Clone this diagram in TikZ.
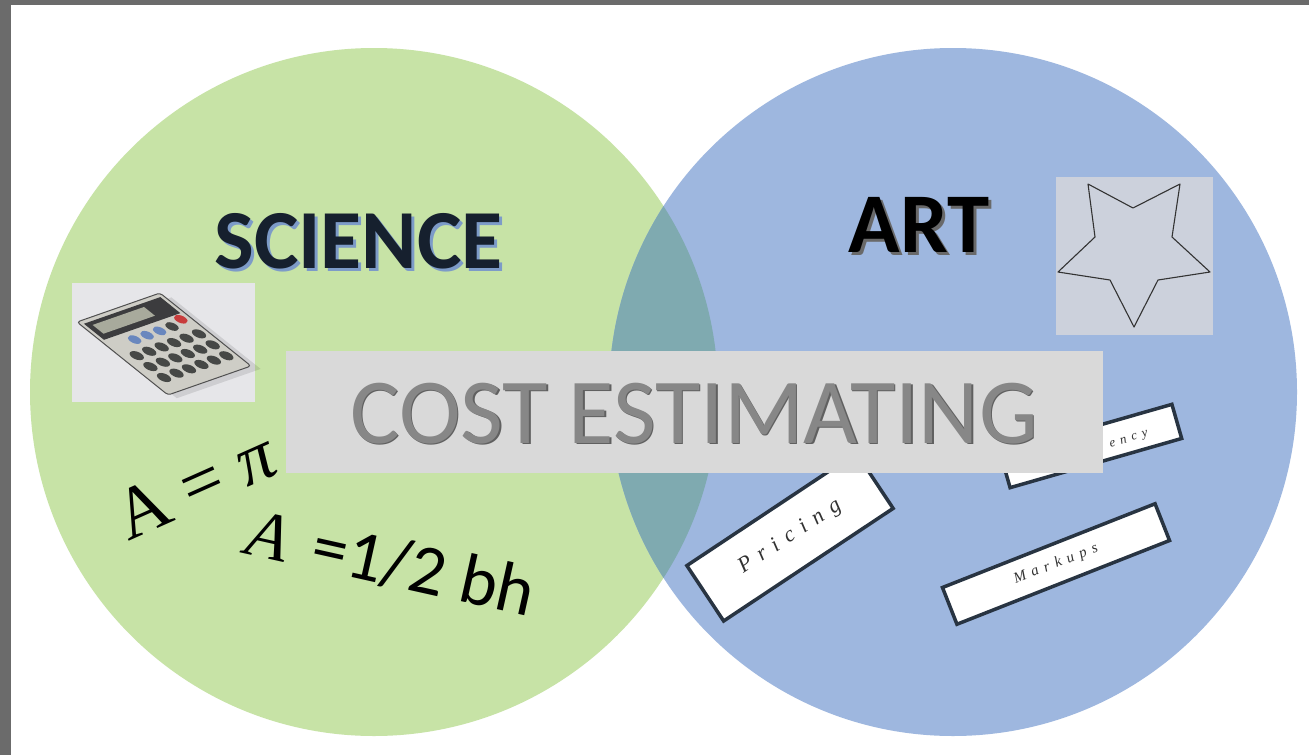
\documentclass[tikz,border=0pt]{standalone}
\usepackage{fontspec}
\newfontfamily\calib{Carlito}
\newfontfamily\lserif{Liberation Serif}
\newfontfamily\lblfont[LetterSpace=40]{Liberation Serif}
\definecolor{sgreen}{RGB}{199,227,166}
\definecolor{sblue}{RGB}{158,183,223}
\definecolor{overlapc}{RGB}{127,170,176}
\definecolor{framec}{RGB}{107,107,107}
\definecolor{costbg}{RGB}{217,217,217}
\definecolor{costfg}{RGB}{135,135,135}
\definecolor{costsh}{RGB}{96,96,96}
\definecolor{scitext}{RGB}{22,32,46}
\definecolor{scish}{RGB}{125,155,200}
\definecolor{artsh}{RGB}{105,105,105}
\definecolor{starbg}{RGB}{204,209,220}
\definecolor{calbg}{RGB}{230,230,233}
\definecolor{calbody}{RGB}{206,205,198}
\definecolor{caledge}{RGB}{80,80,80}
\definecolor{calpanel}{RGB}{60,60,62}
\definecolor{calscreen}{RGB}{168,170,156}
\definecolor{keydark}{RGB}{70,72,70}
\definecolor{keyblue}{RGB}{105,135,190}
\definecolor{keyred}{RGB}{200,60,60}
\definecolor{tagedge}{RGB}{40,52,66}
\definecolor{tagtext}{RGB}{50,50,50}
\tikzset{
  plate/.style={inner sep=0pt, outer sep=0pt},
  tagbox/.style={draw=tagedge, fill=white, line width=3.5pt, inner sep=0pt},
  tagtxt/.style={inner sep=0pt, text=tagtext},
  key/.style={fill=keydark},
}
\begin{document}
\begin{tikzpicture}[x=1pt,y=-1pt]
\useasboundingbox (0,0) rectangle (1309,755);
\fill[white] (0,0) rectangle (1309,755);
% circles
\node[plate, circle, fill=sgreen, minimum size=688pt] (science) at (374,392) {};
\node[plate, circle, fill=sblue, minimum size=688pt] (art) at (953,392) {};
\begin{scope}
  \clip (374,392) circle[radius=344];
  \fill[overlapc] (953,392) circle[radius=344];
\end{scope}
% calculator picture
\node[plate, fill=calbg, minimum width=183pt, minimum height=119pt, anchor=north west] (calcpic) at (72,283) {};
\begin{scope}[shift={(77,322)}, x={(83pt,29pt)}, y={(91pt,-73pt)}]
  \fill[black, opacity=0.10] (0.04,0.08) -- (1.05,0.08) -- (1.05,1.06) -- (0.04,1.06) -- cycle;
  \draw[fill=calbody, draw=caledge, line width=1pt, rounded corners=3pt] (0,0) -- (1,0) -- (1,1) -- (0,1) -- cycle;
  \fill[calpanel] (0.04,0.04) -- (0.96,0.04) -- (0.96,0.26) -- (0.04,0.26) -- cycle;
  \fill[calscreen] (0.1,0.08) -- (0.72,0.08) -- (0.72,0.2) -- (0.1,0.2) -- cycle;
  \foreach \s in {0.3,0.45,0.6} \fill[keyblue] (\s,0.36) circle[radius=0.055];
  \fill[key] (0.75,0.36) circle[radius=0.055];
  \fill[keyred] (0.9,0.32) circle[radius=0.055];
  \foreach \s in {0.15,0.3,0.45,0.6,0.75,0.9}
    \foreach \t in {0.52,0.67,0.82}
      \fill[key] (\s,\t) circle[radius=0.058];
\end{scope}
% star picture
\node[plate, fill=starbg, minimum width=157pt, minimum height=158pt, anchor=north west] (starpic) at (1056,177) {};
\draw[line width=1.1pt, draw=black!80, line join=round] (1088,184) -- (1133,208) -- (1180,184) -- (1172,237) -- (1210,272) -- (1158,280) -- (1134,327) -- (1110,280) -- (1058,272) -- (1095,237) -- cycle;
% titles
\node[plate, anchor=base, text=scish, font=\calib\bfseries\fontsize{84}{84}\selectfont] (scishadow) at (361.5,271) {SCIENCE};
\node[plate, anchor=base, text=scitext, font=\calib\bfseries\fontsize{84}{84}\selectfont] (scititle) at (358.5,268) {SCIENCE};
\node[plate, anchor=base, text=artsh, font=\calib\bfseries\fontsize{85}{85}\selectfont] (artshadow) at (922,255) {ART};
\node[plate, anchor=base, text=black, font=\calib\bfseries\fontsize{85}{85}\selectfont] (arttitle) at (919,252) {ART};
% formulas
\node[plate, anchor=base west, rotate=24, font=\lserif\fontsize{73}{73}\selectfont] (circlearea) at (128,541) {A = \textit{π}};
\node[plate, anchor=base west, rotate=-12.6] (trianglearea) at (243,553) {{\lserif\itshape\fontsize{68}{68}\selectfont A}\hspace{26pt}{\calib\fontsize{71}{71}\selectfont =1/2 bh}};
% tags
\node[tagbox, minimum width=203.5pt, minimum height=66.5pt, rotate=33.6] (pricingbox) at (790,537) {};
\node[tagtxt, rotate=33.6, font=\lblfont\itshape\fontsize{22}{22}\selectfont] (pricing) at (pricingbox.center) {Pricing};
\node[tagbox, minimum width=228.5pt, minimum height=39.5pt, rotate=21.5] (markupsbox) at (1056,564) {};
\node[tagtxt, rotate=21.5, font=\lblfont\itshape\fontsize{15}{15}\selectfont] (markups) at (markupsbox.center) {Markups};
\node[tagbox, minimum width=178.5pt, minimum height=35.5pt, rotate=16] (encybox) at (1091,446) {};
\node[tagtxt, rotate=16, font=\lblfont\itshape\fontsize{13}{13}\selectfont] (ency) at (1129,440) {ency};
% cost estimating banner
\node[plate, fill=costbg, minimum width=817pt, minimum height=122pt, anchor=north west] (costbox) at (286,351) {};
\node[plate, anchor=base, text=costsh, font=\calib\fontsize{93}{93}\selectfont] (costshadow) at (695.5,444.5) {COST ESTIMATING};
\node[plate, anchor=base, text=costfg, font=\calib\fontsize{93}{93}\selectfont] (costtitle) at (694,443) {COST ESTIMATING};
% frame
\fill[framec] (0,0) rectangle (11,755);
\fill[framec] (0,0) rectangle (1309,5);
\end{tikzpicture}
\end{document}
